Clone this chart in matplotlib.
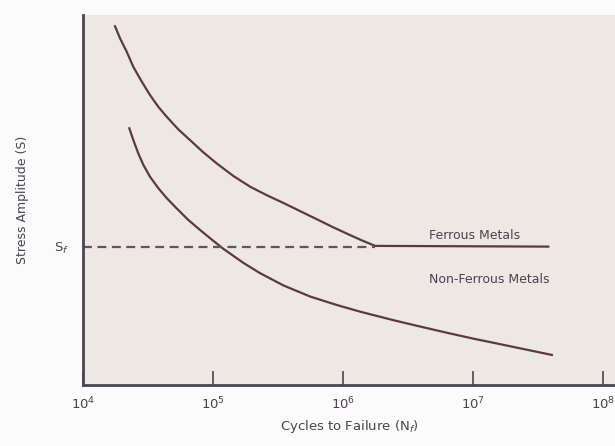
import numpy as np
import matplotlib.pyplot as plt

# S-N curves: log10(cycles) and stress (arbitrary units, 0-100)
ferrous_logN = [4.246, 4.285, 4.336, 4.387, 4.452, 4.515, 4.579, 4.644, 4.733,
                4.823, 4.925, 5.028, 5.156, 5.285, 5.413, 5.541, 5.669, 5.798,
                5.925, 6.054, 6.156, 6.246, 7.577]
ferrous_stress = [97.0, 93.7, 90.1, 86.0, 82.0, 78.4, 75.2, 72.5, 69.1,
                  66.2, 62.9, 59.9, 56.5, 53.6, 51.3, 49.2, 47.0, 44.8,
                  42.6, 40.5, 38.9, 37.6, 37.4]

nonferrous_logN = [4.356, 4.387, 4.425, 4.464, 4.515, 4.579, 4.644, 4.721, 4.810,
                   4.900, 4.990, 5.079, 5.233, 5.362, 5.541, 5.746, 5.952, 6.131,
                   6.387, 6.541, 6.798, 7.002, 7.182, 7.387, 7.605]
nonferrous_stress = [69.4, 66.2, 62.6, 59.5, 56.3, 53.2, 50.5, 47.7, 44.6,
                     41.9, 39.3, 36.8, 33.0, 30.2, 26.9, 23.9, 21.6, 19.8,
                     17.5, 16.2, 14.1, 12.5, 11.2, 9.7, 8.1]

endurance_limit = 37.4
knee_logN = 6.246

tick_cycles = [1e4, 1e5, 1e6, 1e7, 1e8]
tick_labels = ["10$^4$", "10$^5$", "10$^6$", "10$^7$", "10$^8$"]

line_col = "#5b3b3a"
text_col = "#4a4250"

fig = plt.figure(figsize=(6.15, 4.46), dpi=100, facecolor="#fbfbfb")
ax = fig.add_axes([0.135, 0.137, 0.865, 0.829], facecolor="#eee8e5")

ax.plot(10 ** np.array(ferrous_logN), ferrous_stress, color=line_col, lw=1.6,
        solid_joinstyle="round")
ax.plot(10 ** np.array(nonferrous_logN), nonferrous_stress, color=line_col, lw=1.6,
        solid_joinstyle="round")
ax.plot([1e4, 10 ** knee_logN], [endurance_limit, endurance_limit],
        color="#6a5058", lw=1.6, ls=(0, (4, 2.5)))

ax.set_xscale("log")
ax.set_xlim(1e4, 10**8.09)
ax.set_ylim(0, 100)

ax.set_xticks(tick_cycles)
ax.set_xticklabels(tick_labels, fontsize=9.5, color=text_col)
ax.xaxis.set_minor_locator(plt.NullLocator())
ax.tick_params(axis="x", direction="in", length=10, width=1.2, color="#4a4550", pad=8)
ax.set_yticks([endurance_limit])
ax.set_yticklabels(["S$_f$"], fontsize=9.5, color=text_col)
ax.tick_params(axis="y", length=0, pad=10)

for side in ["top", "right"]:
    ax.spines[side].set_visible(False)
for side in ["left", "bottom"]:
    ax.spines[side].set_color("#4a4550")
    ax.spines[side].set_linewidth(2)

ax.text(10**6.66, 39.5, "Ferrous Metals", fontsize=9, color=text_col)
ax.text(10**6.66, 27.5, "Non-Ferrous Metals", fontsize=9, color=text_col)

ax.set_xlabel("Cycles to Failure (N$_f$)", fontsize=9.5, color=text_col, labelpad=4)
ax.set_ylabel("Stress Amplitude (S)", fontsize=9, color=text_col, labelpad=18)

fig.savefig("out.png", dpi=100, facecolor=fig.get_facecolor())
